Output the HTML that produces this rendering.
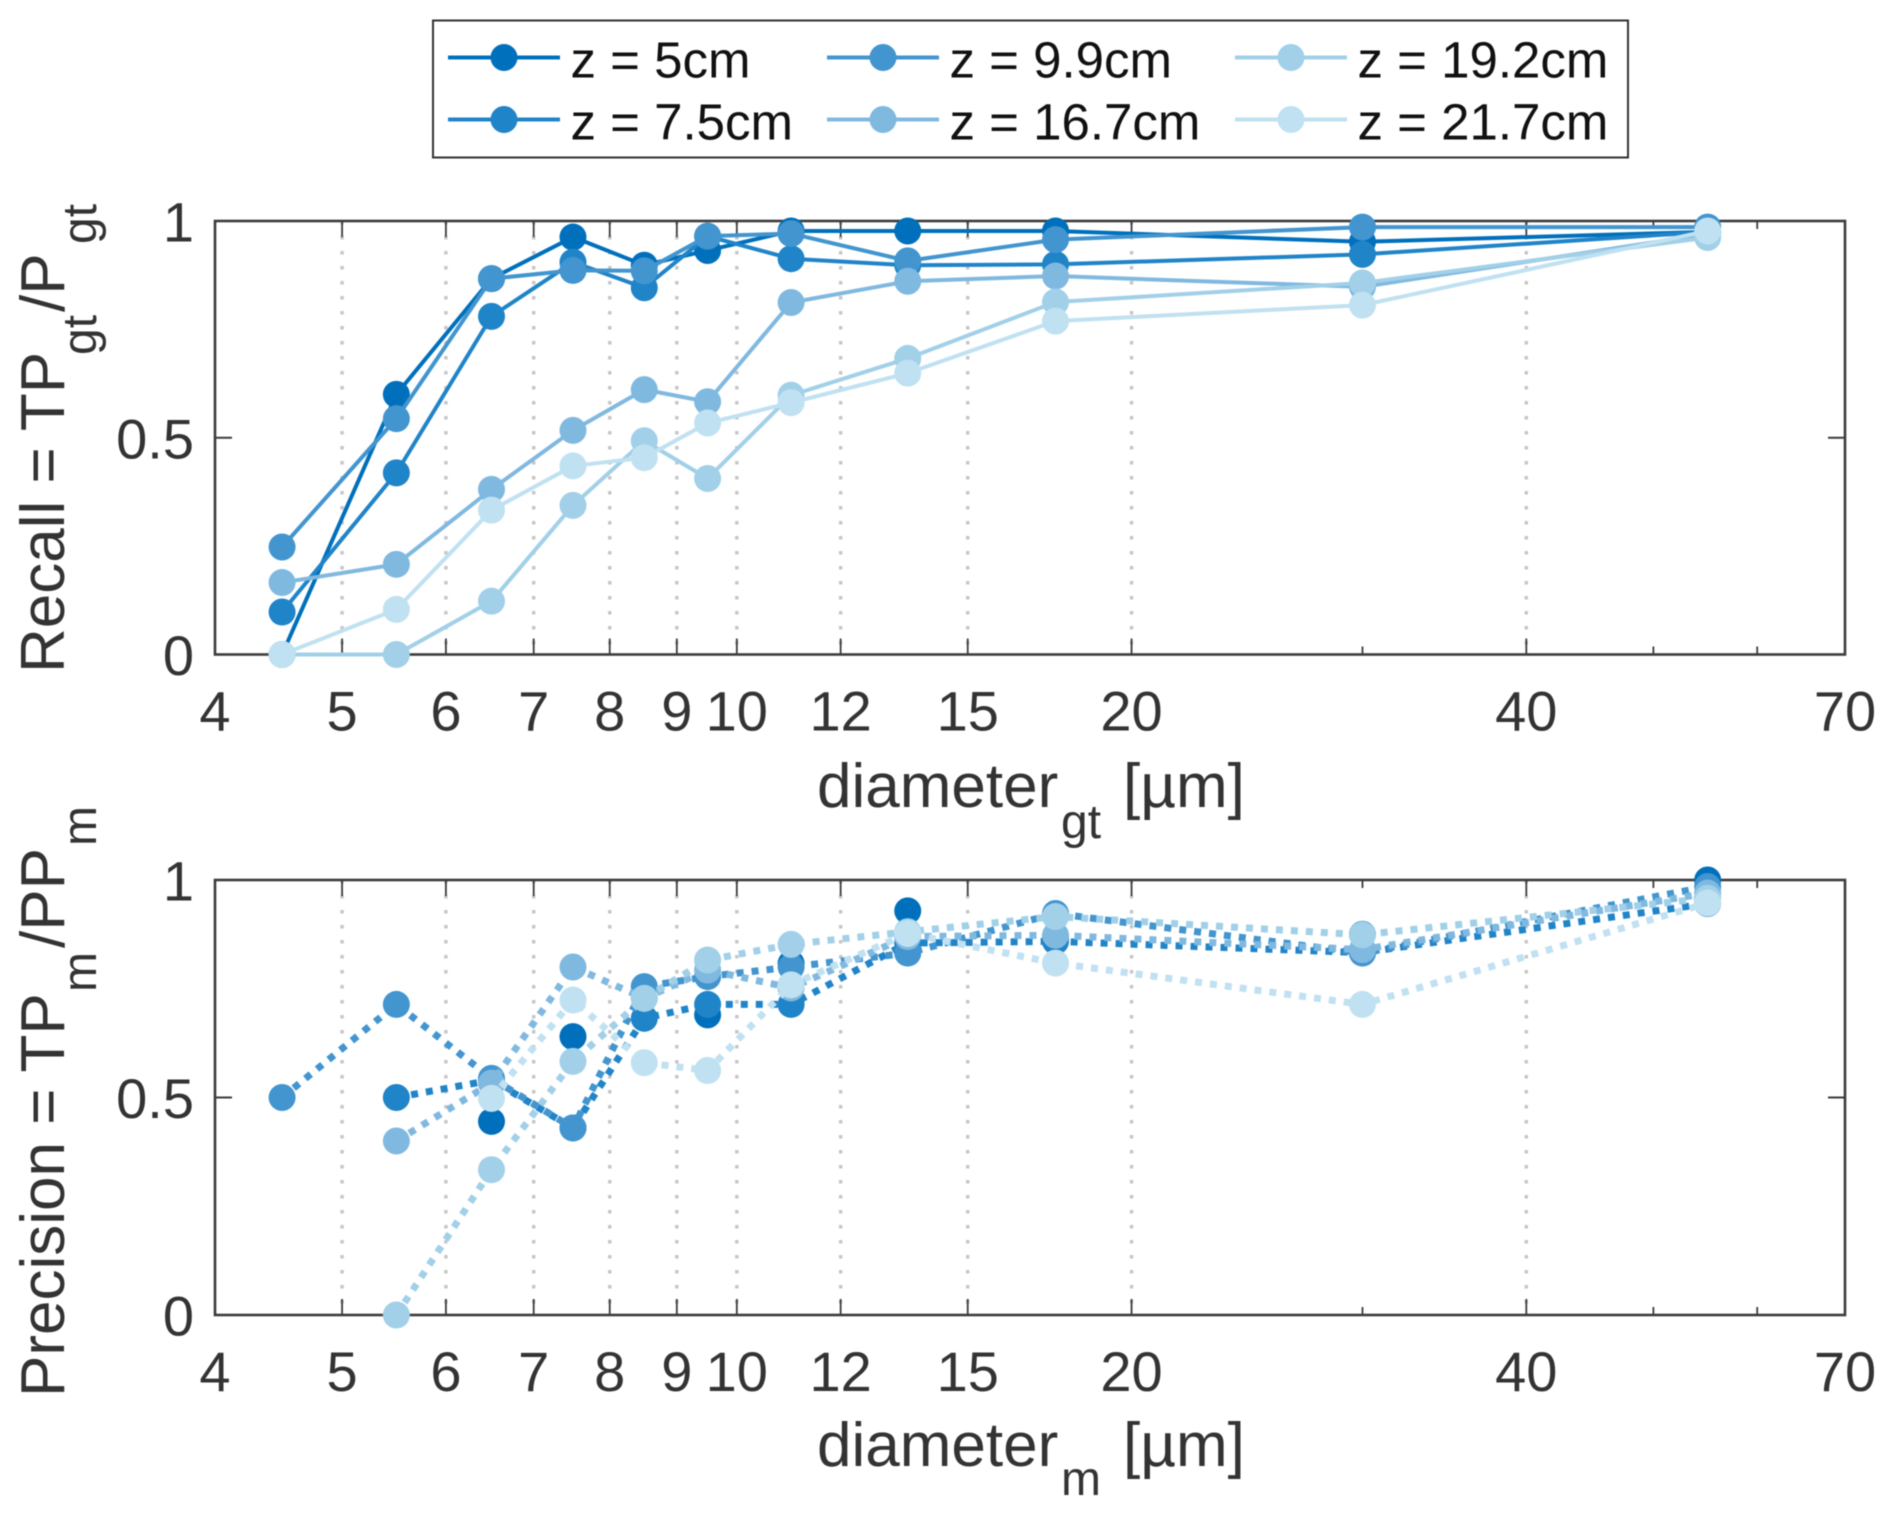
<!DOCTYPE html>
<html lang="en">
<head>
<meta charset="utf-8">
<title>Recall and precision by diameter</title>
<style>
html,body{margin:0;padding:0;background:#fff;}
svg{display:block;font-family:"Liberation Sans",Arial,sans-serif;filter:blur(0.55px);}
</style>
</head>
<body>
<svg id="figure" width="1892" height="1515" viewBox="0 0 1892 1515" xmlns="http://www.w3.org/2000/svg">
  <rect x="0" y="0" width="1892" height="1515" fill="#fff"/>
  <g id="top-layer"></g>
  <g id="bottom-layer"></g>
  <g id="legend-layer">
    <rect x="433" y="20.5" width="1195" height="137" fill="#fff" stroke="#333" stroke-width="2"/>
  </g>

  <text transform="rotate(-90)" font-size="62" fill="#333"><tspan x="-673" y="64">Recall = TP</tspan><tspan x="-355" y="96" font-size="48">gt</tspan><tspan x="-312" y="64">/P</tspan><tspan x="-244" y="96" font-size="48">gt</tspan></text>
  <text font-size="62" fill="#333"><tspan x="817" y="807">diameter</tspan><tspan x="1061" y="838" font-size="48">gt</tspan><tspan x="1123" y="807">[µm]</tspan></text>

  <text transform="rotate(-90)" font-size="62" fill="#333"><tspan x="-1397" y="64">Precision = TP</tspan><tspan x="-992" y="96" font-size="48">m</tspan><tspan x="-948" y="64">/PP</tspan><tspan x="-846" y="96" font-size="48">m</tspan></text>
  <text font-size="62" fill="#333"><tspan x="817" y="1466">diameter</tspan><tspan x="1061" y="1495" font-size="48">m</tspan><tspan x="1123" y="1466">[µm]</tspan></text>
</svg>

<script>
// ---- chart data ----
const seriesNames = ['z = 5cm', 'z = 7.5cm', 'z = 9.9cm', 'z = 16.7cm', 'z = 19.2cm', 'z = 21.7cm'];
const seriesColors = ['#0070bc', '#2084c8', '#4295cf', '#80b9e0', '#a1d0e8', '#c0e1f1'];
const diameters = [4.5, 5.5, 6.5, 7.5, 8.5, 9.5, 11, 13.5, 17.5, 30, 55];

const recallZ5   = [0, 0.6, 0.867, 0.963, 0.898, 0.932, 0.977, 0.977, 0.977, 0.952, 0.975];
const recallZ75  = [0.098, 0.419, 0.78, 0.905, 0.846, 0.965, 0.913, 0.898, 0.9, 0.923, 0.975];
const recallZ99  = [0.248, 0.544, 0.867, 0.886, 0.885, 0.965, 0.971, 0.908, 0.957, 0.986, 0.986];
const recallZ167 = [0.166, 0.208, 0.381, 0.517, 0.611, 0.583, 0.812, 0.861, 0.873, 0.848, 0.97];
const recallZ192 = [0, 0, 0.123, 0.344, 0.493, 0.406, 0.598, 0.683, 0.813, 0.857, 0.962];
const recallZ217 = [0, 0.104, 0.333, 0.435, 0.454, 0.534, 0.581, 0.649, 0.769, 0.806, 0.977];

const precisionZ5   = [null, null, 0.445, 0.64, null, 0.69, 0.808, 0.929, 0.87, 0.875, 1.0];
const precisionZ75  = [null, 0.5, 0.54, 0.43, 0.682, 0.714, 0.714, 0.855, 0.859, 0.833, 0.946];
const precisionZ99  = [0.5, 0.714, 0.544, 0.43, 0.755, 0.778, 0.8, 0.832, 0.923, 0.832, 0.985];
const precisionZ167 = [null, 0.4, 0.533, 0.8, 0.728, 0.793, 0.752, 0.87, 0.873, 0.84, 0.97];
const precisionZ192 = [null, 0, 0.334, 0.583, 0.728, 0.816, 0.852, 0.881, 0.916, 0.874, 0.958];
const precisionZ217 = [null, null, 0.498, 0.724, 0.58, 0.562, 0.759, 0.877, 0.809, 0.714, 0.947];

const recallSeries = [recallZ5, recallZ75, recallZ99, recallZ167, recallZ192, recallZ217];
const precisionSeries = [precisionZ5, precisionZ75, precisionZ99, precisionZ167, precisionZ192, precisionZ217];

const xTickValues = [4, 5, 6, 7, 8, 9, 10, 12, 15, 20, 30, 40, 50, 60, 70];
const xTickLabels = ['4', '5', '6', '7', '8', '9', '10', '12', '15', '20', '', '40', '', '', '70'];
const yTickValues = [0, 0.5, 1];
const yTickLabels = ['0', '0.5', '1'];

// ---- layout ----
const NS = 'http://www.w3.org/2000/svg';
const plotLeft = 215, plotRight = 1845;
const xMin = 4, xMax = 70;
const axisColor = '#3c3c3c', textColor = '#333';
const markerRadius = 13.5;

function xScale(v) {
  return plotLeft + (Math.log(v / xMin) / Math.log(xMax / xMin)) * (plotRight - plotLeft);
}
function makeYScale(top, bottom) {
  return function (v) { return bottom - v * (bottom - top); };
}
function node(tag, attrs, parent) {
  const el = document.createElementNS(NS, tag);
  for (const k in attrs) el.setAttribute(k, attrs[k]);
  parent.appendChild(el);
  return el;
}

function drawPanel(layer, prefix, top, bottom, series, dotted, hideFirstLine) {
  const yScale = makeYScale(top, bottom);

  // grid lines (labelled x ticks only, not the axis limits)
  xTickValues.forEach(function (v, i) {
    if (!xTickLabels[i] || v === xMin || v === xMax) return;
    const g = node('line', {x1: xScale(v), x2: xScale(v), y1: top, y2: bottom, stroke: '#c6c6c6', 'stroke-width': 3.4, 'stroke-dasharray': '3.5 11.5'}, layer);
    
    
  });

  // box
  const box = node('rect', {x: plotLeft, y: top, width: plotRight - plotLeft, height: bottom - top, fill: 'none', stroke: axisColor, 'stroke-width': 2.6}, layer);
  
  

  // x ticks
  xTickValues.forEach(function (v, i) {
    const len = xTickLabels[i] ? 16 : 8;
    const px = xScale(v);
    const t1 = node('line', {x1: px, x2: px, y1: bottom, y2: bottom - len, stroke: axisColor, 'stroke-width': 1.8}, layer);
    
    
    const t2 = node('line', {x1: px, x2: px, y1: top, y2: top + len, stroke: axisColor, 'stroke-width': 1.8}, layer);
    
    
    if (xTickLabels[i]) {
      const lab = node('text', {x: px, y: bottom + 76, 'text-anchor': 'middle', 'font-size': 56, fill: textColor}, layer);
      
      
      lab.textContent = xTickLabels[i];
    }
  });

  // y ticks
  yTickValues.forEach(function (v, i) {
    const py = yScale(v);
    const t1 = node('line', {x1: plotLeft, x2: plotLeft + 17, y1: py, y2: py, stroke: axisColor, 'stroke-width': 2}, layer);
    
    
    const t2 = node('line', {x1: plotRight, x2: plotRight - 17, y1: py, y2: py, stroke: axisColor, 'stroke-width': 2}, layer);
    
    
    const lab = node('text', {x: 194, y: py + 20.5, 'text-anchor': 'end', 'font-size': 56, fill: textColor}, layer);
    
    
    lab.textContent = yTickLabels[i];
  });

  // series
  series.forEach(function (values, s) {
    const g = node('g', {}, layer);
    
    

    if (!(hideFirstLine && s === 0)) {
      let d = '', pen = false;
      values.forEach(function (v, i) {
        if (v === null) { pen = false; return; }
        d += (pen ? 'L' : 'M') + xScale(diameters[i]).toFixed(2) + ' ' + yScale(v).toFixed(2);
        pen = true;
      });
      const attrs = {d: d, fill: 'none', stroke: seriesColors[s], 'stroke-linejoin': 'round'};
      if (dotted) {
        attrs['stroke-width'] = 7;
        attrs['stroke-dasharray'] = '7 8';
      } else {
        attrs['stroke-width'] = 4;
      }
      const path = node('path', attrs, g);
      
      
    }

    values.forEach(function (v, i) {
      if (v === null) return;
      const c = node('circle', {cx: xScale(diameters[i]), cy: yScale(v), r: markerRadius, fill: seriesColors[s]}, g);
      
      
    });
  });
}

drawPanel(document.getElementById('top-layer'), 'recall', 221, 654.5, recallSeries, false, false);
drawPanel(document.getElementById('bottom-layer'), 'precision', 880, 1315, precisionSeries, true, true);

// ---- legend ----
const legendLayer = document.getElementById('legend-layer');
const legendLineStarts = [448, 448, 827, 827, 1235, 1235];
const legendRows = [57.5, 119.5, 57.5, 119.5, 57.5, 119.5];
seriesNames.forEach(function (name, i) {
  const g = node('g', {}, legendLayer);
  
  
  const x0 = legendLineStarts[i], y0 = legendRows[i];
  const ln = node('line', {x1: x0, x2: x0 + 112, y1: y0, y2: y0, stroke: seriesColors[i], 'stroke-width': 4}, g);
  
  
  const mk = node('circle', {cx: x0 + 56, cy: y0, r: markerRadius, fill: seriesColors[i]}, g);
  
  
  const tx = node('text', {x: x0 + 122.5, y: y0 + 20, 'font-size': 51, fill: '#111'}, g);
  
  
  tx.textContent = name;
});
</script>
</body>
</html>
